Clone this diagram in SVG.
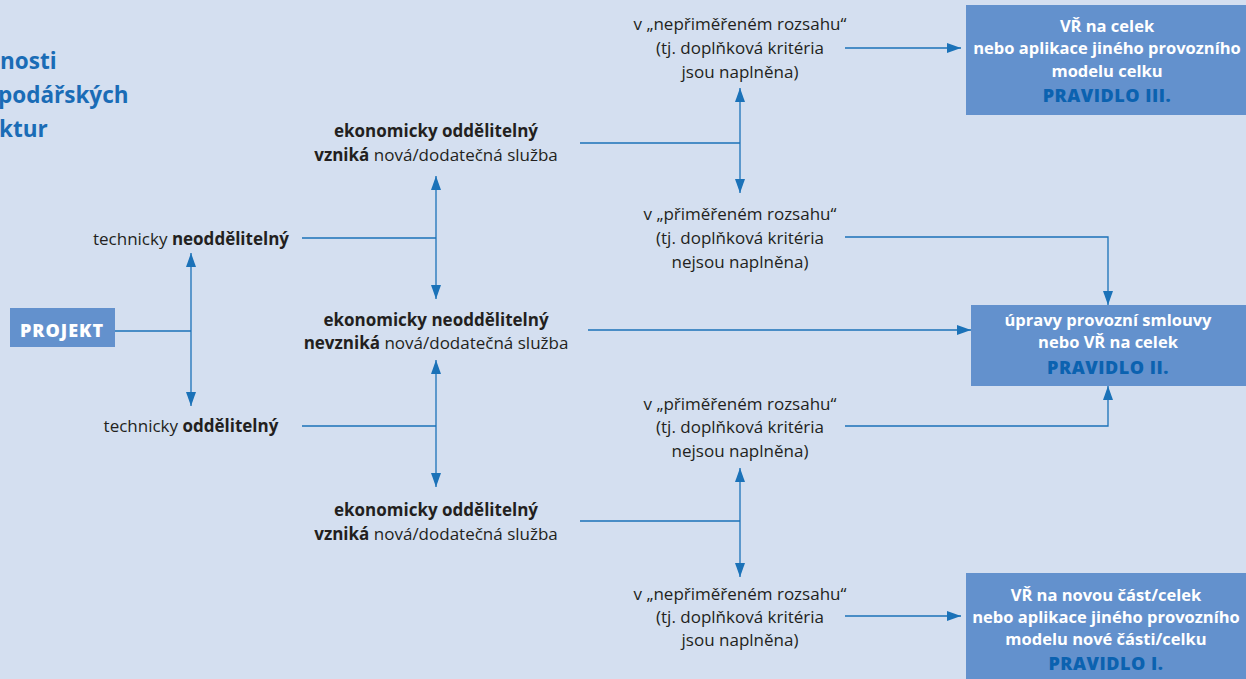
<svg xmlns="http://www.w3.org/2000/svg" width="1246" height="679" viewBox="0 0 1246 679">
<style>
.t{font-family:"Open Sans","Noto Sans",sans-serif;font-size:17px;fill:#231f20;text-anchor:middle}
.b{font-weight:bold}
.bx{fill:#6391cd}
.bt{font-family:"Open Sans","Noto Sans",sans-serif;font-size:16.5px;font-weight:bold;fill:#ffffff;text-anchor:middle}
.pr{font-family:"Open Sans","Noto Sans",sans-serif;font-size:18px;font-weight:800;fill:#0b62b0;text-anchor:middle;letter-spacing:0.5px}
.ti{font-family:"Open Sans","Noto Sans",sans-serif;font-size:22.5px;font-weight:bold;fill:#1a6cb6}
.ln{stroke:#1b72b8;stroke-width:1.3;fill:none}
</style>
<defs>
<marker id="ah" viewBox="0 0 14 10" refX="14" refY="5" markerWidth="14" markerHeight="10" markerUnits="userSpaceOnUse" orient="auto-start-reverse">
<path d="M0,0 L14,5 L0,10 z" fill="#1b72b8"/>
</marker>
</defs>
<rect width="1246" height="679" fill="#d4dff0"/>
<g id="title">
<text class="ti" x="0" y="69">nosti</text>
<text class="ti" x="-2" y="103">podářských</text>
<text class="ti" x="-1" y="137">ktur</text>
</g>
<g id="connectors">
<path class="ln" d="M115,331 H191"/>
<path class="ln" d="M191,253 V406" marker-start="url(#ah)" marker-end="url(#ah)"/>
<path class="ln" d="M302,238 H436"/>
<path class="ln" d="M436,176 V299" marker-start="url(#ah)" marker-end="url(#ah)"/>
<path class="ln" d="M302,426 H436"/>
<path class="ln" d="M436,360 V487" marker-start="url(#ah)" marker-end="url(#ah)"/>
<path class="ln" d="M580,143 H740"/>
<path class="ln" d="M740,88 V193" marker-start="url(#ah)" marker-end="url(#ah)"/>
<path class="ln" d="M845,48 H961" marker-end="url(#ah)"/>
<path class="ln" d="M845,237 H1108 V305" marker-end="url(#ah)"/>
<path class="ln" d="M588,330 H971" marker-end="url(#ah)"/>
<path class="ln" d="M845,426 H1108 V386" marker-end="url(#ah)"/>
<path class="ln" d="M580,521 H740"/>
<path class="ln" d="M740,468 V577" marker-start="url(#ah)" marker-end="url(#ah)"/>
<path class="ln" d="M845,616 H961" marker-end="url(#ah)"/>
</g>
<g id="projekt">
<rect class="bx" x="10" y="308" width="105" height="39"/>
<text class="pr" x="62" y="337" style="fill:#ffffff;letter-spacing:1px">PROJEKT</text>
</g>
<g id="tech-neodd">
<text class="t" x="191" y="245">technicky <tspan class="b">neoddělitelný</tspan></text>
</g>
<g id="tech-odd">
<text class="t" x="191" y="432">technicky <tspan class="b">oddělitelný</tspan></text>
</g>
<g id="eko-odd-top">
<text class="t b" x="436" y="137">ekonomicky oddělitelný</text>
<text class="t" x="436" y="161"><tspan class="b">vzniká</tspan> nová/dodatečná služba</text>
</g>
<g id="eko-neodd">
<text class="t b" x="436" y="326">ekonomicky neoddělitelný</text>
<text class="t" x="436" y="349"><tspan class="b">nevzniká</tspan> nová/dodatečná služba</text>
</g>
<g id="eko-odd-bottom">
<text class="t b" x="436" y="516">ekonomicky oddělitelný</text>
<text class="t" x="436" y="540"><tspan class="b">vzniká</tspan> nová/dodatečná služba</text>
</g>
<g id="neprim-top">
<text class="t" x="740" y="30">v „nepřiměřeném rozsahu“</text>
<text class="t" x="740" y="54">(tj. doplňková kritéria</text>
<text class="t" x="740" y="78">jsou naplněna)</text>
</g>
<g id="prim-top">
<text class="t" x="740" y="220">v „přiměřeném rozsahu“</text>
<text class="t" x="740" y="244">(tj. doplňková kritéria</text>
<text class="t" x="740" y="268">nejsou naplněna)</text>
</g>
<g id="prim-bottom">
<text class="t" x="740" y="410">v „přiměřeném rozsahu“</text>
<text class="t" x="740" y="433">(tj. doplňková kritéria</text>
<text class="t" x="740" y="457">nejsou naplněna)</text>
</g>
<g id="neprim-bottom">
<text class="t" x="740" y="600">v „nepřiměřeném rozsahu“</text>
<text class="t" x="740" y="623">(tj. doplňková kritéria</text>
<text class="t" x="740" y="646">jsou naplněna)</text>
</g>
<g id="pravidlo-3">
<rect class="bx" x="966" y="5" width="290" height="110"/>
<text class="bt" x="1107" y="32">VŘ na celek</text>
<text class="bt" x="1107" y="54">nebo aplikace jiného provozního</text>
<text class="bt" x="1107" y="77">modelu celku</text>
<text class="pr" x="1107" y="102">PRAVIDLO III.</text>
</g>
<g id="pravidlo-2">
<rect class="bx" x="971" y="305" width="285" height="81"/>
<text class="bt" x="1108" y="326">úpravy provozní smlouvy</text>
<text class="bt" x="1108" y="348">nebo VŘ na celek</text>
<text class="pr" x="1108" y="374">PRAVIDLO II.</text>
</g>
<g id="pravidlo-1">
<rect class="bx" x="966" y="573" width="290" height="110"/>
<text class="bt" x="1106" y="601">VŘ na novou část/celek</text>
<text class="bt" x="1106" y="623">nebo aplikace jiného provozního</text>
<text class="bt" x="1106" y="645">modelu nové části/celku</text>
<text class="pr" x="1106" y="670">PRAVIDLO I.</text>
</g>
</svg>
